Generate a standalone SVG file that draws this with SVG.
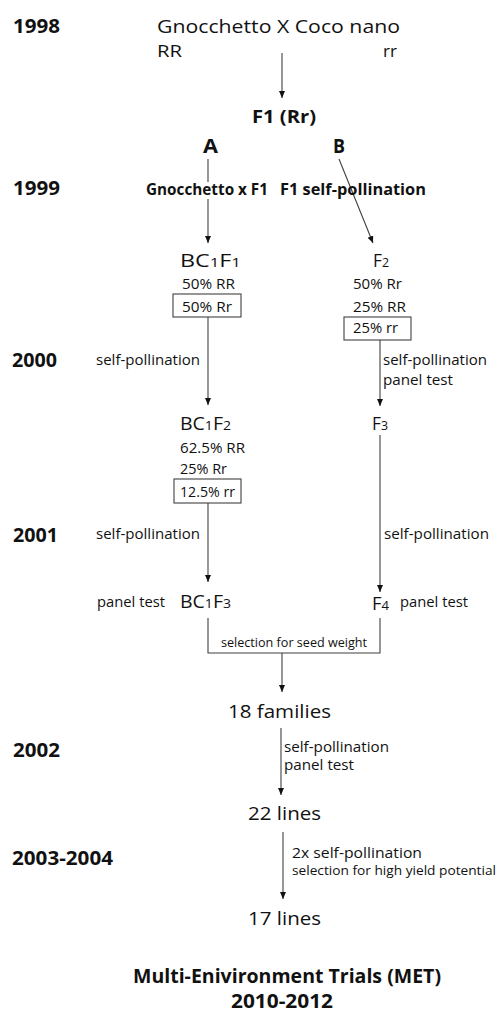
<svg xmlns="http://www.w3.org/2000/svg" width="499" height="1012" viewBox="0 0 499 1012">
<defs>
<style>
text{font-family:"Open Sans","Noto Sans","Liberation Sans",sans-serif;fill:#111;}
.yr{font-size:19px;font-weight:bold;}
.b{font-weight:bold;}
.n{font-size:18px;}
.p{font-size:14px;}
.s{font-size:0.72em;}
.c line,.c path{stroke:#404040;stroke-width:1.1;fill:none;}
.box{fill:#fff;stroke:#404040;stroke-width:1.1;}
</style>
<marker id="ah" markerUnits="userSpaceOnUse" markerWidth="8" markerHeight="8" viewBox="0 0 8 8" refX="7" refY="4" orient="auto">
<path d="M0,1 L7,4 L0,7 Z" fill="#111"/>
</marker>
</defs>
<rect width="499" height="1012" fill="#fff"/>

<g id="years">
<text class="yr" x="13" y="33" textLength="47" lengthAdjust="spacingAndGlyphs">1998</text>
<text class="yr" x="13" y="195" textLength="47" lengthAdjust="spacingAndGlyphs">1999</text>
<text class="yr" x="12" y="367" textLength="45" lengthAdjust="spacingAndGlyphs">2000</text>
<text class="yr" x="13" y="542" textLength="45" lengthAdjust="spacingAndGlyphs">2001</text>
<text class="yr" x="13" y="757" textLength="47" lengthAdjust="spacingAndGlyphs">2002</text>
<text class="yr" x="12" y="865" textLength="101" lengthAdjust="spacingAndGlyphs">2003-2004</text>
</g>

<g class="c" id="connectors">
<line x1="282" y1="53" x2="282" y2="98" marker-end="url(#ah)"/>
<line x1="208" y1="159" x2="208" y2="182"/>
<line x1="208" y1="199" x2="208" y2="243" marker-end="url(#ah)"/>
<line x1="339" y1="159" x2="373" y2="243" marker-end="url(#ah)"/>
<line x1="208" y1="317" x2="208" y2="405" marker-end="url(#ah)"/>
<line x1="380" y1="340" x2="380" y2="406" marker-end="url(#ah)"/>
<line x1="208" y1="503" x2="208" y2="582" marker-end="url(#ah)"/>
<line x1="380" y1="435" x2="380" y2="592" marker-end="url(#ah)"/>
<path d="M208,618 V653 H380 V618"/>
<line x1="282" y1="653" x2="282" y2="692" marker-end="url(#ah)"/>
<line x1="281" y1="728" x2="281" y2="795" marker-end="url(#ah)"/>
<line x1="283" y1="832" x2="283" y2="899" marker-end="url(#ah)"/>
</g>

<g id="cross">
<text x="157" y="33" font-size="18.5" textLength="243" lengthAdjust="spacingAndGlyphs">Gnocchetto X Coco nano</text>
<text x="157" y="57" font-size="16" textLength="25" lengthAdjust="spacingAndGlyphs">RR</text>
<text x="383" y="57" font-size="16" textLength="14" lengthAdjust="spacingAndGlyphs">rr</text>
</g>

<g id="f1">
<text class="b" x="252" y="123" font-size="18.5" textLength="64" lengthAdjust="spacingAndGlyphs">F1 (Rr)</text>
</g>

<g id="labelA"><text class="b" x="203" y="153" font-size="20" textLength="15" lengthAdjust="spacingAndGlyphs">A</text></g>
<g id="labelB"><text class="b" x="333" y="153" font-size="20" textLength="12" lengthAdjust="spacingAndGlyphs">B</text></g>

<g id="stepA1"><text class="b" x="146" y="195" font-size="15.5" textLength="122" lengthAdjust="spacingAndGlyphs">Gnocchetto x F1</text></g>
<g id="stepB1"><text class="b" x="280" y="195" font-size="15.5" textLength="146" lengthAdjust="spacingAndGlyphs">F1 self-pollination</text></g>

<g id="bc1f1">
<text class="n" x="180" y="267" textLength="61" lengthAdjust="spacingAndGlyphs">BC<tspan class="s">1</tspan>F<tspan class="s">1</tspan></text>
<text class="p" x="182" y="289" textLength="53" lengthAdjust="spacingAndGlyphs">50% RR</text>
<rect class="box" x="173" y="294" width="68" height="23"/>
<text class="p" x="182" y="312" textLength="50" lengthAdjust="spacingAndGlyphs">50% Rr</text>
</g>

<g id="f2">
<text class="n" x="373" y="267" textLength="16" lengthAdjust="spacingAndGlyphs">F<tspan class="s">2</tspan></text>
<text class="p" x="353" y="289" textLength="49" lengthAdjust="spacingAndGlyphs">50% Rr</text>
<text class="p" x="353" y="312" textLength="53" lengthAdjust="spacingAndGlyphs">25% RR</text>
<rect class="box" x="344" y="317" width="67" height="23"/>
<text class="p" x="353" y="333" textLength="45" lengthAdjust="spacingAndGlyphs">25% rr</text>
</g>

<g id="step2000">
<text class="p" x="96" y="365" textLength="104" lengthAdjust="spacingAndGlyphs">self-pollination</text>
<text class="p" x="383" y="365" textLength="104" lengthAdjust="spacingAndGlyphs">self-pollination</text>
<text class="p" x="383" y="385" textLength="70" lengthAdjust="spacingAndGlyphs">panel test</text>
</g>

<g id="bc1f2">
<text class="n" x="180" y="430" textLength="51" lengthAdjust="spacingAndGlyphs">BC<tspan class="s">1</tspan>F<tspan class="s">2</tspan></text>
<text class="p" x="180" y="453" textLength="65" lengthAdjust="spacingAndGlyphs">62.5% RR</text>
<text class="p" x="180" y="474" textLength="47" lengthAdjust="spacingAndGlyphs">25% Rr</text>
<rect class="box" x="174" y="479" width="67" height="24"/>
<text class="p" x="180" y="497" textLength="55" lengthAdjust="spacingAndGlyphs">12.5% rr</text>
</g>

<g id="f3">
<text class="n" x="372" y="430" textLength="16" lengthAdjust="spacingAndGlyphs">F<tspan class="s">3</tspan></text>
</g>

<g id="step2001">
<text class="p" x="96" y="539" textLength="104" lengthAdjust="spacingAndGlyphs">self-pollination</text>
<text class="p" x="384" y="539" textLength="105" lengthAdjust="spacingAndGlyphs">self-pollination</text>
</g>

<g id="bc1f3">
<text class="p" x="97" y="607" textLength="68" lengthAdjust="spacingAndGlyphs">panel test</text>
<text class="n" x="180" y="608" textLength="51" lengthAdjust="spacingAndGlyphs">BC<tspan class="s">1</tspan>F<tspan class="s">3</tspan></text>
</g>

<g id="f4">
<text class="n" x="372" y="610" textLength="17" lengthAdjust="spacingAndGlyphs">F<tspan class="s">4</tspan></text>
<text class="p" x="400" y="607" textLength="68" lengthAdjust="spacingAndGlyphs">panel test</text>
</g>

<g id="selection">
<text x="221" y="647" font-size="12" textLength="146" lengthAdjust="spacingAndGlyphs">selection for seed weight</text>
</g>

<g id="families">
<text x="228" y="718" font-size="19" textLength="103" lengthAdjust="spacingAndGlyphs">18 families</text>
</g>

<g id="step2002">
<text class="p" x="284" y="752" textLength="105" lengthAdjust="spacingAndGlyphs">self-pollination</text>
<text class="p" x="284" y="770" textLength="70" lengthAdjust="spacingAndGlyphs">panel test</text>
</g>

<g id="lines22">
<text x="248" y="820" font-size="19" textLength="73" lengthAdjust="spacingAndGlyphs">22 lines</text>
</g>

<g id="step2003">
<text x="292" y="858" font-size="15" textLength="130" lengthAdjust="spacingAndGlyphs">2x self-pollination</text>
<text x="292" y="875" font-size="13" textLength="204" lengthAdjust="spacingAndGlyphs">selection for high yield potential</text>
</g>

<g id="lines17">
<text x="248" y="925" font-size="19" textLength="73" lengthAdjust="spacingAndGlyphs">17 lines</text>
</g>

<g id="met">
<text class="b" x="133" y="983" font-size="19" textLength="308" lengthAdjust="spacingAndGlyphs">Multi-Enivironment Trials (MET)</text>
<text class="b" x="231" y="1008" font-size="19" textLength="102" lengthAdjust="spacingAndGlyphs">2010-2012</text>
</g>
</svg>
